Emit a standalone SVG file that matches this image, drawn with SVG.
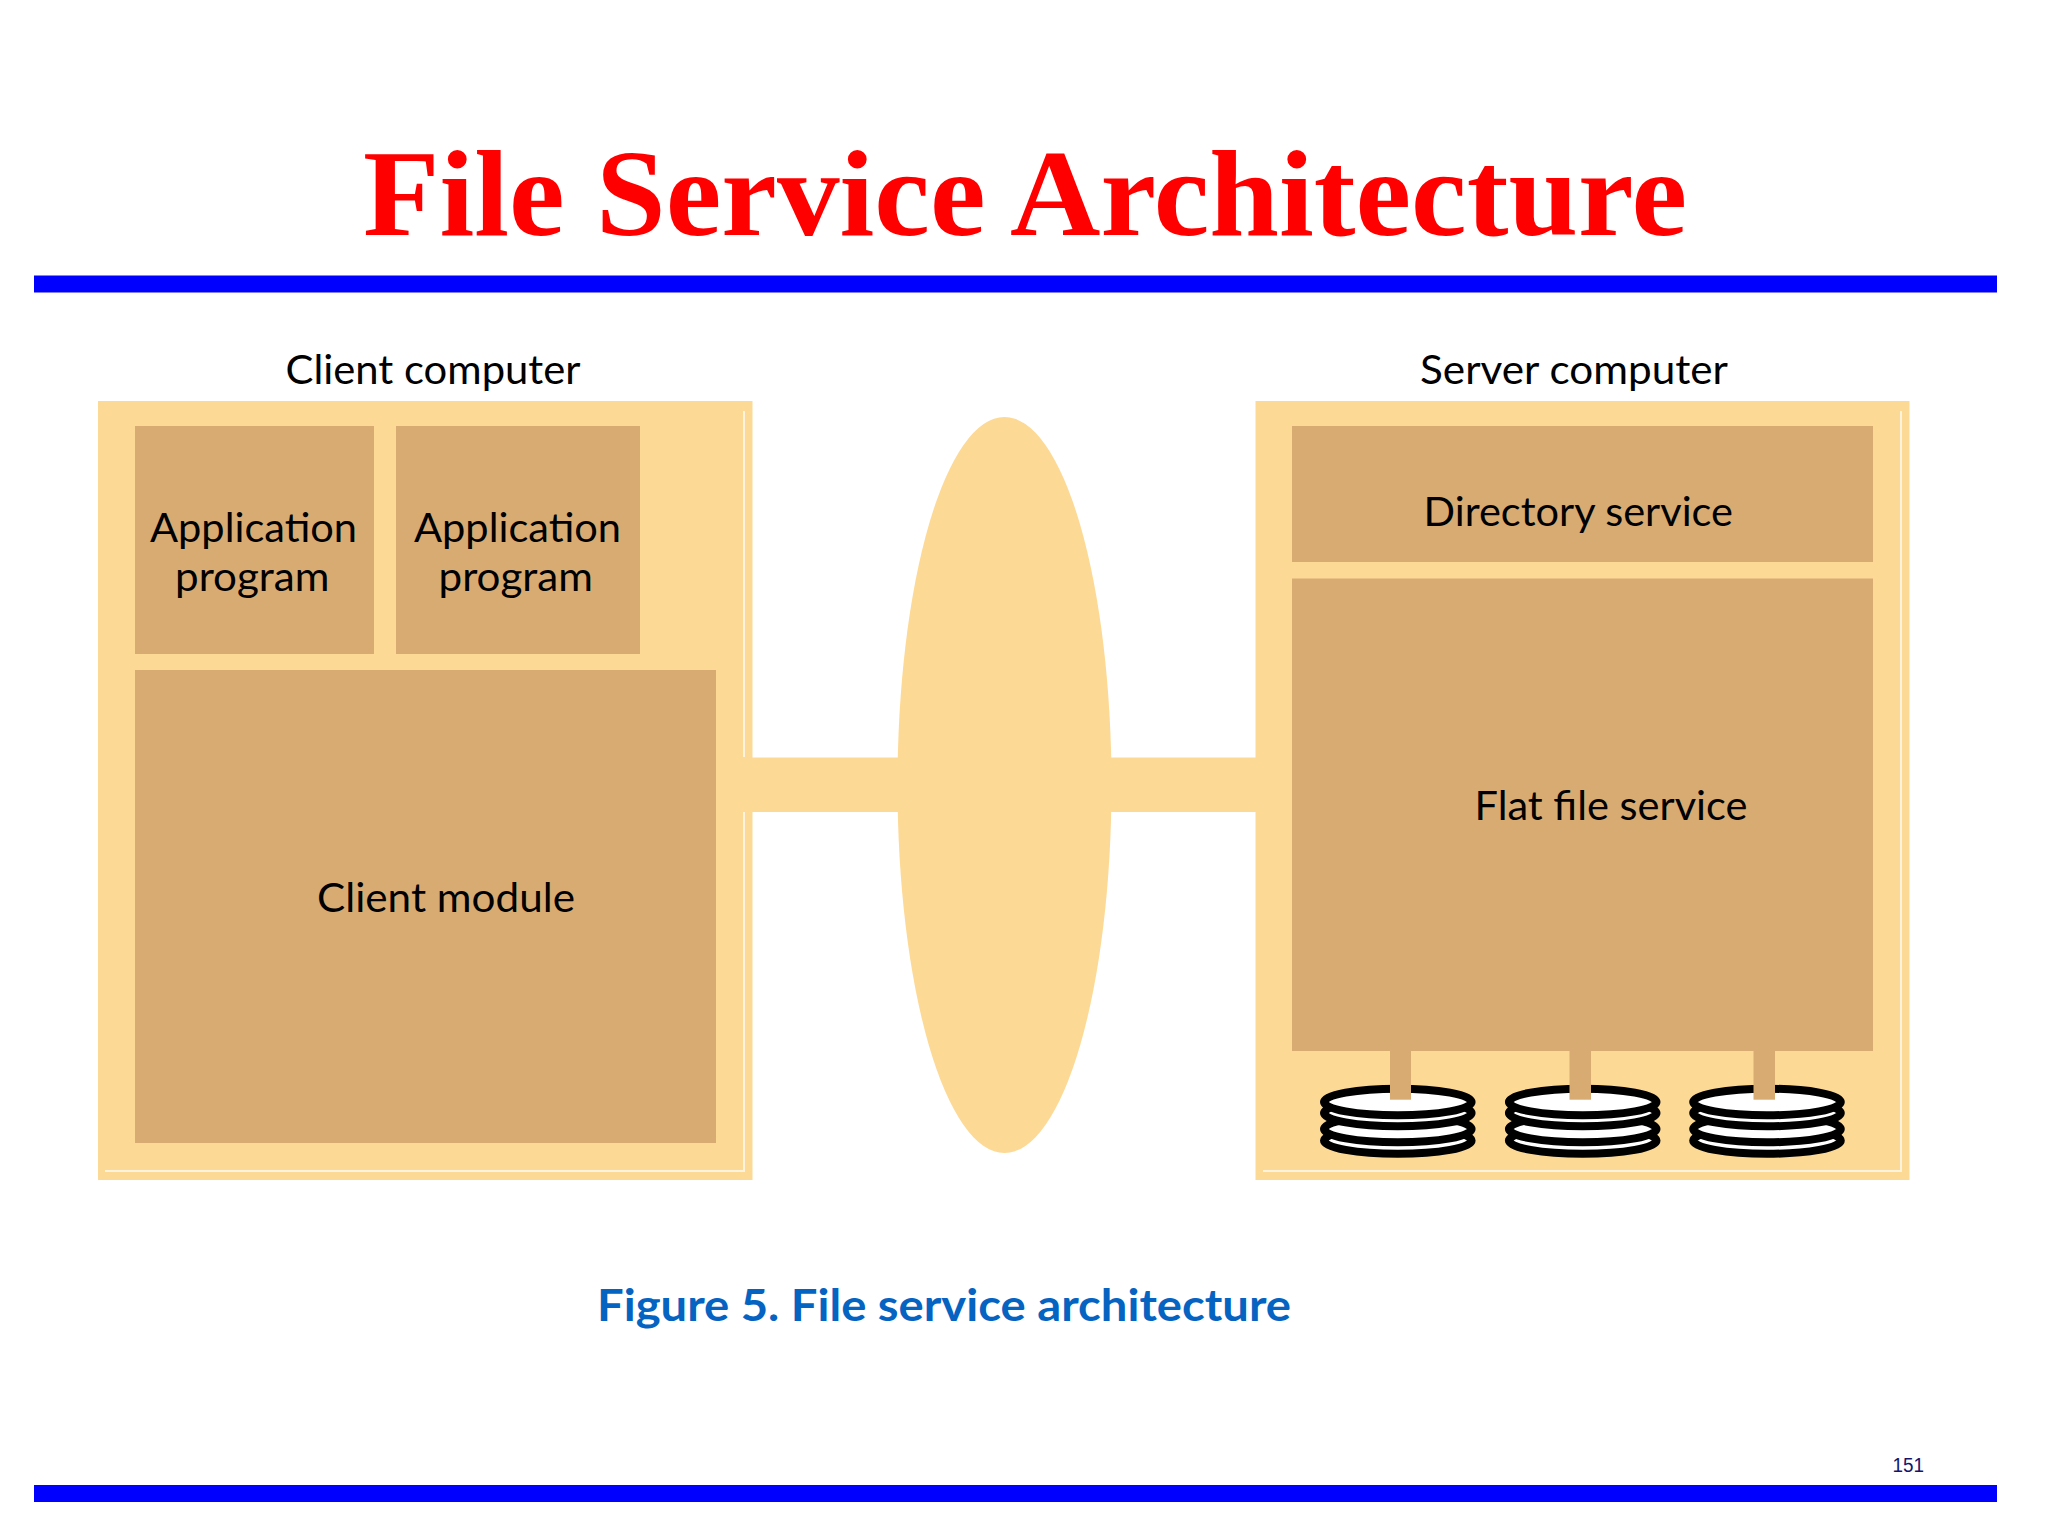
<svg xmlns="http://www.w3.org/2000/svg" width="2048" height="1536" viewBox="0 0 2048 1536">
<style>
.outer{fill:#FDD996}
.inner{fill:#D8AB73}
.edge{fill:none;stroke:#FFF3DC;stroke-width:2}
.t{font-family:Lato,"Open Sans",sans-serif;font-size:40px;fill:#000}
.d{fill:#fff;stroke:#000;stroke-width:8}
.bar{fill:#0000FF}
</style>
<defs>
<g id="disk">
<ellipse class="d" cx="0" cy="38.5" rx="73.8" ry="13.3"/>
<ellipse class="d" cx="0" cy="27" rx="73.8" ry="13.3"/>
<ellipse class="d" cx="0" cy="11" rx="73.8" ry="13.3"/>
<ellipse class="d" cx="0" cy="0" rx="73.8" ry="13.3"/>
</g>
</defs>
<rect width="2048" height="1536" fill="#fff"/>
<text x="363" y="235" font-family="Liberation Serif,serif" font-weight="bold" font-size="122" fill="#FF0000" textLength="1324" lengthAdjust="spacingAndGlyphs">File Service Architecture</text>
<rect class="bar" x="34" y="275.5" width="1963" height="17"/>
<rect class="bar" x="34" y="1485" width="1963" height="17"/>
<g id="connectors">
<rect class="outer" x="744" y="757.5" width="512" height="54.5"/>
</g>
<g id="client-computer">
<rect class="outer" x="98" y="401" width="654.5" height="779"/>
<path class="edge" d="M744 411V757M744 812V1171H105"/>
<text class="t" x="285.5" y="384" textLength="295" lengthAdjust="spacingAndGlyphs">Client computer</text>
</g>
<g id="application-1">
<rect class="inner" x="135" y="426" width="239" height="228"/>
<text class="t" x="150" y="542" textLength="207" lengthAdjust="spacingAndGlyphs">Application</text>
<text class="t" x="175" y="590.5" textLength="154.5" lengthAdjust="spacingAndGlyphs">program</text>
</g>
<g id="application-2">
<rect class="inner" x="396" y="426" width="244" height="228"/>
<text class="t" x="414" y="542" textLength="207" lengthAdjust="spacingAndGlyphs">Application</text>
<text class="t" x="438.5" y="590.5" textLength="154.5" lengthAdjust="spacingAndGlyphs">program</text>
</g>
<g id="client-module">
<rect class="inner" x="135" y="670" width="581" height="473"/>
<text class="t" x="317" y="911.5" textLength="258" lengthAdjust="spacingAndGlyphs">Client module</text>
</g>
<g id="network">
<ellipse class="outer" cx="1004.5" cy="785" rx="107" ry="368"/>
</g>
<g id="server-computer">
<rect class="outer" x="1255.5" y="401" width="654" height="779"/>
<path class="edge" d="M1901 411V1171H1263"/>
<text class="t" x="1420" y="384" textLength="308" lengthAdjust="spacingAndGlyphs">Server computer</text>
</g>
<g id="directory-service">
<rect class="inner" x="1292" y="426" width="581" height="136"/>
<text class="t" x="1423.5" y="526" textLength="309.5" lengthAdjust="spacingAndGlyphs">Directory service</text>
</g>
<g id="disk-1"><use href="#disk" x="1397.8" y="1102"/></g>
<g id="disk-2"><use href="#disk" x="1582.7" y="1102"/></g>
<g id="disk-3"><use href="#disk" x="1767" y="1102"/></g>
<g id="flat-file-service">
<rect class="inner" x="1292" y="578.5" width="581" height="472.5"/>
<text class="t" x="1474.5" y="820" textLength="273" lengthAdjust="spacingAndGlyphs">Flat file service</text>
</g>
<g id="disk-links">
<rect class="inner" x="1390" y="1050" width="21" height="49.7"/>
<rect class="inner" x="1569.5" y="1050" width="21.5" height="49.7"/>
<rect class="inner" x="1753.5" y="1050" width="21.5" height="49.7"/>
</g>
<text x="597" y="1320.5" font-family="Lato,sans-serif" font-weight="bold" font-size="44" fill="#0563C1" textLength="694" lengthAdjust="spacingAndGlyphs">Figure 5. File service architecture</text>
<text x="1892.5" y="1472.3" font-family="Liberation Sans,sans-serif" font-size="20" fill="#14146E" textLength="31.5" lengthAdjust="spacingAndGlyphs">151</text>
</svg>
